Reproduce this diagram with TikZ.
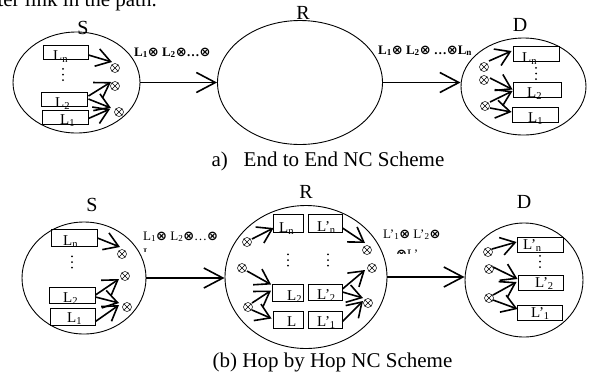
\documentclass[tikz,border=0pt]{standalone}
\usepackage{fontspec}
\setmainfont{Liberation Serif}
\newfontfamily\symf{DejaVu Sans}
\usetikzlibrary{shapes.geometric,arrows.meta,calc}
\newcommand{\ox}{{\symf\bfseries ⊗}}
\newcommand{\sbs}[1]{\textsubscript{#1}}
\begin{document}
\begin{tikzpicture}[x=1pt,y=-1pt,
  oval/.style={ellipse,draw,line width=0.9pt,inner sep=0pt},
  pkt/.style={rectangle,draw,line width=0.9pt,inner sep=0pt},
  lbl/.style={font=\fontsize{15}{17}\selectfont,inner sep=0pt,anchor=base west},
  xo/.style={circle,draw,line width=0.5pt,minimum size=9pt,inner sep=0pt,
    path picture={\draw[line width=0.5pt] (path picture bounding box.north west)--(path picture bounding box.south east)
      (path picture bounding box.north east)--(path picture bounding box.south west);}},
  arr/.style={line width=1.6pt,-{Straight Barb[length=14pt,width=18pt]}},
  big/.style={line width=1.6pt,-{Straight Barb[length=19pt,width=20pt]}},
  nm/.style={font=\fontsize{20}{24}\selectfont,inner sep=0pt},
  captxt/.style={font=\fontsize{21}{25}\selectfont,inner sep=0pt,anchor=base},
  vdt/.style={inner sep=0pt,minimum width=3pt,minimum height=14pt,
    path picture={\foreach \t in {0.1,0.5,0.9}
      \fill ($(path picture bounding box.north)!\t!(path picture bounding box.south)$) circle (1pt);}},
  msg/.style={font=\fontsize{13}{16}\selectfont,inner sep=0pt,anchor=base west},
  msgb/.style={msg,font=\fontsize{13}{16}\selectfont\bfseries},
]
\useasboundingbox (0,0) rectangle (589,373);

% cut text at the top
\begin{scope}
\clip (0,0) rectangle (589,20);
\node[captxt,anchor=base east] (toptxt) at (157,6.5) {ter link in the path.};
\end{scope}

% ================= (a) =================
\node[oval,minimum width=127pt,minimum height=101pt] (S1) at (76.5,82.5) {};
\node[oval,minimum width=165pt,minimum height=124pt] (R1) at (300,82.5) {};
\node[oval,minimum width=125pt,minimum height=97pt] (D1) at (523.5,86.5) {};
\node[nm] (nS1) at (83,27.5) {S};
\node[nm] (nR1) at (303,12.5) {R};
\node[nm] (nD1) at (520,25) {D};

% S boxes
\node[pkt,minimum width=45pt,minimum height=14pt] (sLn) at (65.5,52) {};
\node[pkt,minimum width=46pt,minimum height=14pt] (sL2) at (64,99) {};
\node[pkt,minimum width=46pt,minimum height=14.5pt] (sL1) at (65,117.5) {};
\node[lbl] (tsLn) at (53,60) {L\sbs{n}};
\node[lbl] (tsL2) at (55,107) {L\sbs{2}};
\node[lbl] (tsL1) at (60,124) {L\sbs{1}};
\node[vdt] (dots1) at (63,74.5) {};
\node[xo] (xa1) at (115,68) {};
\node[xo] (xa2) at (115,86) {};
\node[xo] (xa3) at (119,112) {};
\draw[arr] ([shift={(0,3)}]sLn.east) -- ([shift={(-3,-6)}]xa1.center);
\draw[arr] ([shift={(1,-3)}]sL2.east) -- ([shift={(-4,-4)}]xa2.center);
\draw[arr] ([shift={(1,0)}]sL2.east) -- ([shift={(-8,-4)}]xa3.center);
\draw[arr] ([shift={(0,1)}]sL1.east) -- ([shift={(-9,-3)}]xa3.center);

% D boxes
\node[pkt,minimum width=46pt,minimum height=15pt] (dLn) at (536,53.5) {};
\node[pkt,minimum width=48pt,minimum height=15pt] (dL2) at (537,89.5) {};
\node[pkt,minimum width=46pt,minimum height=15pt] (dL1) at (535,114.5) {};
\node[lbl] (tdLn) at (522,62) {L\sbs{n}};
\node[lbl] (tdL2) at (527,97.5) {L\sbs{2}};
\node[lbl] (tdL1) at (528,122) {L\sbs{1}};
\node[vdt] (dots2) at (536,73.5) {};
\node[xo] (xd1) at (484,67) {};
\node[xo] (xd2) at (484,80) {};
\node[xo] (xd3) at (485,106) {};
\draw[arr] ([shift={(5,-6)}]xd1.center) -- ([shift={(-1,-2.5)}]dLn.west);
\draw[arr] ([shift={(6,-2)}]xd2.center) -- (dL2.west);
\draw[arr] ([shift={(5,-4)}]xd3.center) -- ([shift={(0,1.5)}]dL2.west);
\draw[arr] ([shift={(5,2)}]xd3.center) -- ([shift={(0,-2.5)}]dL1.west);

% main arrows (a)
\draw[big] (S1.east) -- (S1.east -| R1.west);
\draw[big] (R1.east) -- (R1.east -| D1.west);
\node[msgb] (m1) at (134,56) {L\sbs{1}\ox{} L\sbs{2}\ox…\ox};
\node[msgb] (m2) at (378,54) {L\sbs{1}\ox{} L\sbs{2}\ox{} …\ox L\sbs{n}};

\node[captxt] (capa) at (328,166) {a)\hspace{0.5em} End to End NC Scheme};

% ================= (b) =================
\node[oval,minimum width=124pt,minimum height=112pt] (S2) at (84,278) {};
\node[oval,minimum width=162pt,minimum height=143pt] (R2) at (306,277) {};
\node[oval,minimum width=118pt,minimum height=114pt] (D2) at (524,280) {};
\node[nm] (nS2) at (92,205) {S};
\node[nm] (nR2) at (306,191.5) {R};
\node[nm] (nD2) at (524,201.5) {D};

% S boxes
\node[pkt,minimum width=46pt,minimum height=17pt] (bLn) at (74,237.5) {};
\node[pkt,minimum width=46pt,minimum height=16pt] (bL2) at (72,295) {};
\node[pkt,minimum width=45pt,minimum height=17pt] (bL1) at (72.5,316.5) {};
\node[lbl] (tbLn) at (63,245) {L\sbs{n}};
\node[lbl] (tbL2) at (63,302) {L\sbs{2}};
\node[lbl] (tbL1) at (67,322) {L\sbs{1}};
\node[vdt] (dots3) at (72,262) {};
\node[xo] (xb1) at (122,254) {};
\node[xo] (xb2) at (125,276) {};
\node[xo] (xb3) at (127,307) {};
\draw[arr] ([shift={(0,0.5)}]bLn.east) -- ([shift={(-2,-7)}]xb1.center);
\draw[arr] (bL2.east) -- ([shift={(-6,3)}]xb2.center);
\draw[arr] ([shift={(0,2)}]bL2.east) -- ([shift={(-8,-4)}]xb3.center);
\draw[arr] ([shift={(0,5)}]bL1.east) -- ([shift={(-8,-2)}]xb3.center);

% R boxes
\node[pkt,minimum width=30pt,minimum height=18pt] (rLn) at (288,223) {};
\node[pkt,minimum width=31pt,minimum height=17pt] (rL2) at (288,292.5) {};
\node[pkt,minimum width=30pt,minimum height=17pt] (rL) at (288,319.5) {};
\node[pkt,minimum width=34pt,minimum height=18pt] (rpLn) at (325,223) {};
\node[pkt,minimum width=34pt,minimum height=16pt] (rpL2) at (325,292) {};
\node[pkt,minimum width=34pt,minimum height=17pt] (rpL1) at (325,319.5) {};
\node[lbl] (trLn) at (279,232) {L\sbs{n}};
\node[lbl] (trL2) at (287,300) {L\sbs{2}};
\node[lbl] (trL) at (287,326) {L};
\node[lbl] (trpLn) at (317,231) {L’\sbs{n}};
\node[lbl] (trpL2) at (317,299) {L’\sbs{2}};
\node[lbl] (trpL1) at (317,326) {L’\sbs{1}};
\node[vdt] (dots4) at (288,260) {};
\node[vdt] (dots5) at (328,260) {};
\node[xo] (xr1) at (247,242) {};
\node[xo] (xr2) at (242,268) {};
\node[xo] (xr3) at (248,307) {};
\node[xo] (xq1) at (367,250) {};
\node[xo] (xq2) at (372,268) {};
\node[xo] (xq3) at (368,303) {};
\draw[arr] ([shift={(5,-3)}]xr1.center) -- ([shift={(1,5)}]rLn.west);
\draw[arr] ([shift={(5,3)}]xr2.center) -- ([shift={(-1,-8)}]rL2.west);
\draw[arr] ([shift={(4,-4)}]xr3.center) -- ([shift={(-1,-2)}]rL2.west);
\draw[arr] ([shift={(4,3)}]xr3.center) -- ([shift={(-1,-1)}]rL.west);
\draw[arr] ([shift={(0,5)}]rpLn.east) -- ([shift={(-2,-7)}]xq1.center);
\draw[arr] ([shift={(0,-3)}]rpL2.east) -- ([shift={(-7,2)}]xq2.center);
\draw[arr] (rpL2.east) -- ([shift={(-5,-5)}]xq3.center);
\draw[arr] ([shift={(0,2)}]rpL1.east) -- ([shift={(-5,-2)}]xq3.center);

% D boxes
\node[pkt,minimum width=46pt,minimum height=15pt] (dpLn) at (540,244.5) {};
\node[pkt,minimum width=45pt,minimum height=15pt] (dpL2) at (540.5,282.5) {};
\node[pkt,minimum width=45pt,minimum height=15pt] (dpL1) at (539.5,312.5) {};
\node[lbl] (tdpLn) at (523,249) {L’\sbs{n}};
\node[lbl] (tdpL2) at (535,287) {L’\sbs{2}};
\node[lbl] (tdpL1) at (531,317) {L’\sbs{1}};
\node[vdt] (dots6) at (540,261.5) {};
\node[xo] (xe1) at (488,252) {};
\node[xo] (xe2) at (489,269) {};
\node[xo] (xe3) at (489,298) {};
\draw[arr] ([shift={(4,-3)}]xe1.center) -- ([shift={(0,-2.5)}]dpLn.west);
\draw[arr] ([shift={(4,-2)}]xe2.center) -- ([shift={(0,-3.5)}]dpL2.west);
\draw[arr] ([shift={(4,-3)}]xe3.center) -- ([shift={(-1,-0.5)}]dpL2.west);
\draw[arr] ([shift={(4,2)}]xe3.center) -- ([shift={(1,-3.5)}]dpL1.west);

% main arrows (b)
\draw[big] (S2.east) -- (S2.east -| R2.west);
\draw[big] (R2.east) -- (R2.east -| D2.west);
\node[msg] (m3) at (143,240) {L\sbs{1}\ox{} L\sbs{2}\ox…\ox};
\node[msg] (m4) at (383,238) {L’\sbs{1}\ox{} L’\sbs{2}\ox};
\begin{scope}
\clip (130,246) rectangle (230,251.5);
\node[msg] (m3b) at (143,257) {L\sbs{n}};
\end{scope}
\begin{scope}
\clip (380,246) rectangle (450,253);
\node[msg] (m4b) at (396,258) {\ox L’\sbs{n}};
\end{scope}

\node[captxt] (capb) at (332.5,367) {(b) Hop by Hop NC Scheme};
\end{tikzpicture}
\end{document}
